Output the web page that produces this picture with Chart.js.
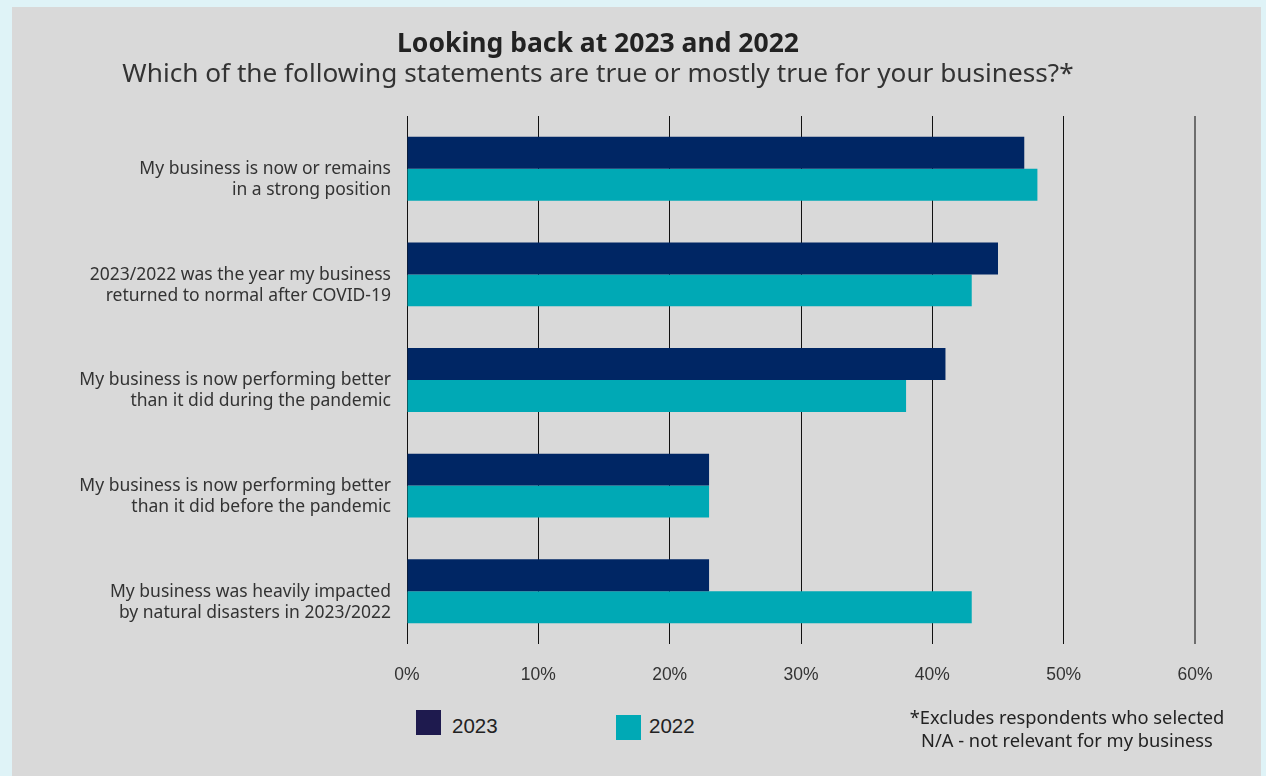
<!DOCTYPE html>
<html>
<head>
<meta charset="utf-8">
<script src="https://cdn.jsdelivr.net/npm/chart.js@4"></script>
<style>
  body { margin: 0; background: #dff3f7; width: 1266px; height: 776px; overflow: hidden; font-family: "Noto Sans", sans-serif; }
  #panel { position: absolute; left: 12px; top: 7px; width: 1249px; height: 769px; background: #d9d9d9; }
  #chartWrap { position: absolute; left: 0; top: 0; width: 1249px; height: 700px; }
  .title { position: absolute; left: 0; width: 1172px; text-align: center; color: #222; white-space: nowrap; }
  #t1 { top: 17px; font-size: 26.5px; font-weight: bold; }
  #t2 { top: 47px; font-size: 26.2px; color: #333; }
  .leg { position: absolute; font-family: "Liberation Sans", sans-serif; font-size: 20.5px; color: #222; }
  .box { position: absolute; width: 25px; height: 25px; }
  #note { position: absolute; left: 855px; width: 400px; top: 698px; text-align: center; font-size: 18.3px; line-height: 23px; color: #222; }
</style>
</head>
<body>
<div id="panel">
  <div id="chartWrap"><canvas id="chart" width="1249" height="700"></canvas></div>
  <div class="title" id="t1">Looking back at 2023 and 2022</div>
  <div class="title" id="t2">Which of the following statements are true or mostly true for your business?*</div>
  <div class="box" style="left:404px; top:703px; background:#1e1a4e;"></div>
  <div class="leg" style="left:440px; top:707px;">2023</div>
  <div class="box" style="left:604px; top:708px; background:#00a9b5;"></div>
  <div class="leg" style="left:637px; top:707px;">2022</div>
  <div id="note">*Excludes respondents who selected<br>N/A - not relevant for my business</div>
</div>
<script>
const categories = [
  ["My business is now or remains", "in a strong position"],
  ["2023/2022 was the year my business", "returned to normal after COVID-19"],
  ["My business is now performing better", "than it did during the pandemic"],
  ["My business is now performing better", "than it did before the pandemic"],
  ["My business was heavily impacted", "by natural disasters in 2023/2022"]
];
const values2023 = [47, 45, 41, 23, 23];
const values2022 = [48, 43, 38, 23, 43];
const xTicks = [0, 10, 20, 30, 40, 50, 60];

const ctx = document.getElementById("chart").getContext("2d");
new Chart(ctx, {
  type: "bar",
  data: {
    labels: categories,
    datasets: [
      { label: "2023", data: values2023, backgroundColor: "#002664" },
      { label: "2022", data: values2022, backgroundColor: "#00a9b5" }
    ]
  },
  options: {
    indexAxis: "y",
    responsive: false,
    animation: false,
    categoryPercentage: 0.605,
    barPercentage: 1,
    layout: { padding: { top: 109, right: 66, left: 0, bottom: 0 } },
    plugins: { legend: { display: false }, tooltip: { enabled: false } },
    scales: {
      x: {
        min: 0,
        max: 60,
        afterBuildTicks: s => { s.ticks = xTicks.map(v => ({ value: v })); },
        afterFit: s => { s.height = 63; },
        grid: {
          drawTicks: false,
          color: c => (c.index === xTicks.length - 1 ? "#6e6e6e" : "#111"),
          lineWidth: c => (c.index === xTicks.length - 1 ? 2 : 1)
        },
        border: { display: false },
        ticks: {
          padding: 21,
          color: "#333",
          font: { family: "Liberation Sans", size: 17.5 },
          callback: v => v + "%"
        }
      },
      y: {
        afterFit: s => { s.width = 395; },
        grid: { display: false },
        border: { display: false },
        ticks: {
          padding: 8,
          labelOffset: 11,
          color: "#333",
          font: { family: "Noto Sans", size: 17.5 },
          lineHeight: 1.27
        }
      }
    }
  }
});
</script>
</body>
</html>
